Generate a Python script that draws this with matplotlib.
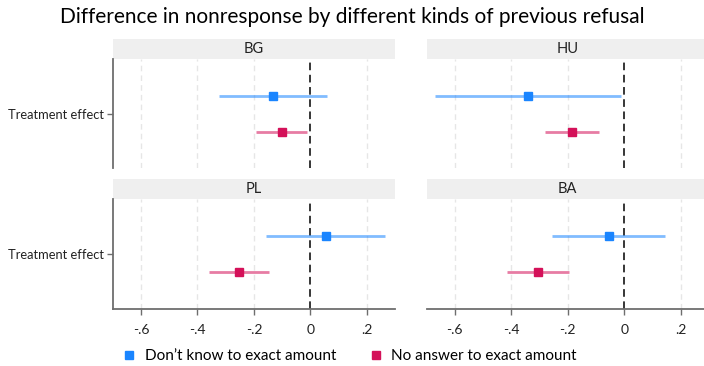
import matplotlib
matplotlib.use('Agg')
import matplotlib.pyplot as plt
from matplotlib.patches import Rectangle
from matplotlib.lines import Line2D

plt.rcParams['font.family'] = ['Lato', 'DejaVu Sans']

# coefficients and 95% CIs per country
countries = ['BG', 'HU', 'PL', 'BA']
dk_est = [-0.131, -0.342, 0.055, -0.055]
dk_lo = [-0.323, -0.670, -0.157, -0.256]
dk_hi = [0.058, -0.013, 0.265, 0.146]
na_est = [-0.102, -0.185, -0.254, -0.307]
na_lo = [-0.193, -0.279, -0.359, -0.414]
na_hi = [-0.013, -0.089, -0.148, -0.197]

series_labels = ['Don\u2019t know to exact amount', 'No answer to exact amount']
blue = '#1a85ff'
pink = '#d41159'
xticks = [-0.6, -0.4, -0.2, 0, 0.2]
xticklabels = ['-.6', '-.4', '-.2', '0', '.2']

W, H = 704, 366
fig = plt.figure(figsize=(W / 100, H / 100), dpi=100)

# panel boxes in pixels: left, top, right, bottom
boxes = [(112.7, 59.3, 395.2, 168.0),
         (426.5, 59.3, 709.0, 168.0),
         (112.7, 199.3, 395.2, 308.7),
         (426.5, 199.3, 709.0, 308.7)]
strip_h = 20.5
offset = 0.165

for i, (c, box) in enumerate(zip(countries, boxes)):
    l, t, r, b = box
    ax = fig.add_axes([l / W, 1 - b / H, (r - l) / W, (b - t) / H])
    ax.set_xlim(-0.7, 0.3)
    ax.set_ylim(0.5, 1.5)
    for xt in xticks:
        if xt == 0:
            continue
        ax.axvline(xt, color='#e6e6e6', lw=1.0, ls=(0, (4, 3)), zorder=0)
    ax.axvline(0, color='black', lw=1.1, ls=(0, (5, 3)), zorder=1)

    ax.plot([dk_lo[i], dk_hi[i]], [1 + offset] * 2, color=blue, alpha=0.55,
            lw=2.0, solid_capstyle='butt', zorder=2)
    ax.plot([dk_est[i]], [1 + offset], 's', color=blue, ms=5.5, zorder=3)
    ax.plot([na_lo[i], na_hi[i]], [1 - offset] * 2, color=pink, alpha=0.55,
            lw=2.0, solid_capstyle='butt', zorder=2)
    ax.plot([na_est[i]], [1 - offset], 's', color=pink, ms=5.5, zorder=3)

    for s in ['top', 'right']:
        ax.spines[s].set_visible(False)
    ax.spines['left'].set_visible(i % 2 == 0)
    ax.spines['bottom'].set_visible(i >= 2)
    for s in ['left', 'bottom']:
        ax.spines[s].set_color('#6e6e6e')
        ax.spines[s].set_linewidth(1.3)

    ax.set_xticks(xticks)
    if i >= 2:
        ax.set_xticklabels(xticklabels, fontsize=10, color='#222222')
        ax.tick_params(axis='x', length=4, width=1, color='#6e6e6e', pad=7)
    else:
        ax.tick_params(axis='x', length=0, labelbottom=False)

    ax.set_yticks([1])
    if i % 2 == 0:
        ax.set_yticklabels(['Treatment effect'], fontsize=9.3, color='#222222')
        ax.tick_params(axis='y', length=4, width=1, color='#6e6e6e', pad=2)
    else:
        ax.tick_params(axis='y', length=0, labelleft=False)

    # country strip above the panel
    sh = strip_h / (b - t)
    ax.add_patch(Rectangle((0, 1), 1, sh, transform=ax.transAxes,
                           facecolor='#efefef', edgecolor='none', clip_on=False))
    ax.text(0.5, 1 + sh / 2, c, transform=ax.transAxes, ha='center',
            va='center', fontsize=10.5, color='#222222')

fig.text(0.5, 1 - 17 / H, 'Difference in nonresponse by different kinds of previous refusal',
         ha='center', va='center', fontsize=15, color='black')

handles = [Line2D([], [], ls='none', marker='s', color=blue, ms=5.5),
           Line2D([], [], ls='none', marker='s', color=pink, ms=5.5)]
fig.legend(handles, series_labels, loc='center', bbox_to_anchor=(0.497, 1 - 356 / H),
           ncol=2, frameon=False, fontsize=11, handlelength=0.8,
           handletextpad=0.6, columnspacing=2.2)

fig.savefig('out.png', dpi=100)
